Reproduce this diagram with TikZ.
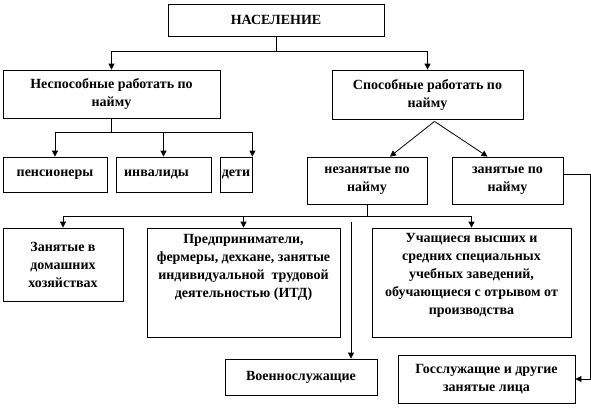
\documentclass[tikz,border=0pt]{standalone}
\usepackage{fontspec}
\setmainfont{Liberation Serif}
\usetikzlibrary{arrows.meta, calc}

\begin{document}
\begin{tikzpicture}[x=0.75pt, y=-0.75pt, >={Triangle[length=4.5pt,width=4.5pt]},
    box/.style={draw, line width=0.6pt, inner sep=1pt, align=center,
        font=\fontsize{10.5}{13.5}\selectfont\bfseries},
    boxtext/.style={inner sep=2pt, align=center, anchor=north,
        font=\fontsize{10.5}{13.5}\selectfont\bfseries},
    link/.style={line width=0.6pt}]
    \useasboundingbox (0,0) rectangle (591,408);

    % Top level
    \node[box, minimum width=162pt, minimum height=24pt] (nas) at (276,20) {НАСЕЛЕНИЕ};
    \node[box, minimum width=162.75pt, minimum height=36pt] (nesp) at (111.5,94) {Неспособные работать по\\найму};
    \node[box, minimum width=143.25pt, minimum height=36.75pt] (sp) at (427.5,94.5) {Способные работать по\\найму};

    % Not able to work
    \node[box, minimum width=78pt, minimum height=26.25pt] (pens) at (55,174.5) {пенсионеры};
    \node[box, minimum width=71.25pt, minimum height=26.25pt, text width=59pt, inner xsep=6pt, align=left] (inv) at (163.5,174.5) {инвалиды};
    \node[box, minimum width=24pt, minimum height=26.25pt, inner xsep=0pt] (deti) at (236,174.5) {дети};

    % Able to work
    \node[box, minimum width=90pt, minimum height=35.25pt] (nez) at (367,180.5) {незанятые по\\найму};
    \node[box, minimum width=83.25pt, minimum height=35.25pt] (zan) at (507.5,180.5) {занятые по\\найму};

    % Bottom level
    \node[box, minimum width=90pt, minimum height=54.75pt] (dom) at (63,264.5) {Занятые в\\домашних\\хозяйствах};
    \node[box, minimum width=144.75pt, minimum height=81.75pt] (pred) at (243.5,282.5) {};
    \node[boxtext] (predtxt) at ($(pred.north)+(0,4)$) {Предприниматели,\\фермеры, дехкане, занятые\\индивидуальной~~трудовой\\деятельностью (ИТД)};
    \node[box, minimum width=149.25pt, minimum height=81.75pt] (uch) at (471.5,282.5) {};
    \node[boxtext] (uchtxt) at ($(uch.north)+(0,3)$) {Учащиеся высших и\\средних специальных\\учебных заведений,\\обучающиеся с отрывом от\\производства};
    \node[box, minimum width=114pt, minimum height=27pt] (voen) at (301,377) {Военнослужащие};
    \node[box, minimum width=132.75pt, minimum height=36pt] (gos) at (486.5,379) {Госслужащие и другие\\занятые лица};

    % Connectors
    \draw[link] (nas.south) -- ++(0,15) coordinate (nasj);
    \draw[link,->] (nasj) -| (nesp.north);
    \draw[link,->] (nasj) -| (sp.north);

    \draw[link] (nesp.south) -- ++(0,14) coordinate (nespj);
    \draw[link,->] (nespj) -| (pens.north);
    \draw[link,->] (nespj) -| (inv.north);
    \draw[link,->] (nespj) -| (deti.north east);

    \coordinate (spj) at ($(sp.south)+(7,2)$);
    \draw[link,->] (spj) -- ($(nez.north)+(23,0)$);
    \draw[link,->] (spj) -- ($(zan.north)+(-20,0)$);

    \draw[link] (nez.south) -- ++(0,12) coordinate (nezj);
    \draw[link,->] (nezj) -| (dom.north);
    \draw[link,->] (nezj) -| (pred.north);
    \draw[link,->] (nezj) -| (uch.north);
    \coordinate (voenj) at ($(voen.north)+(50,-137)$);
    \draw[link,->] (voenj) -- (voenj |- voen.north);

    \draw[link,->] ($(zan.east)+(0,-6)$) -- ++(27,0) |- (gos.east);
\end{tikzpicture}
\end{document}
